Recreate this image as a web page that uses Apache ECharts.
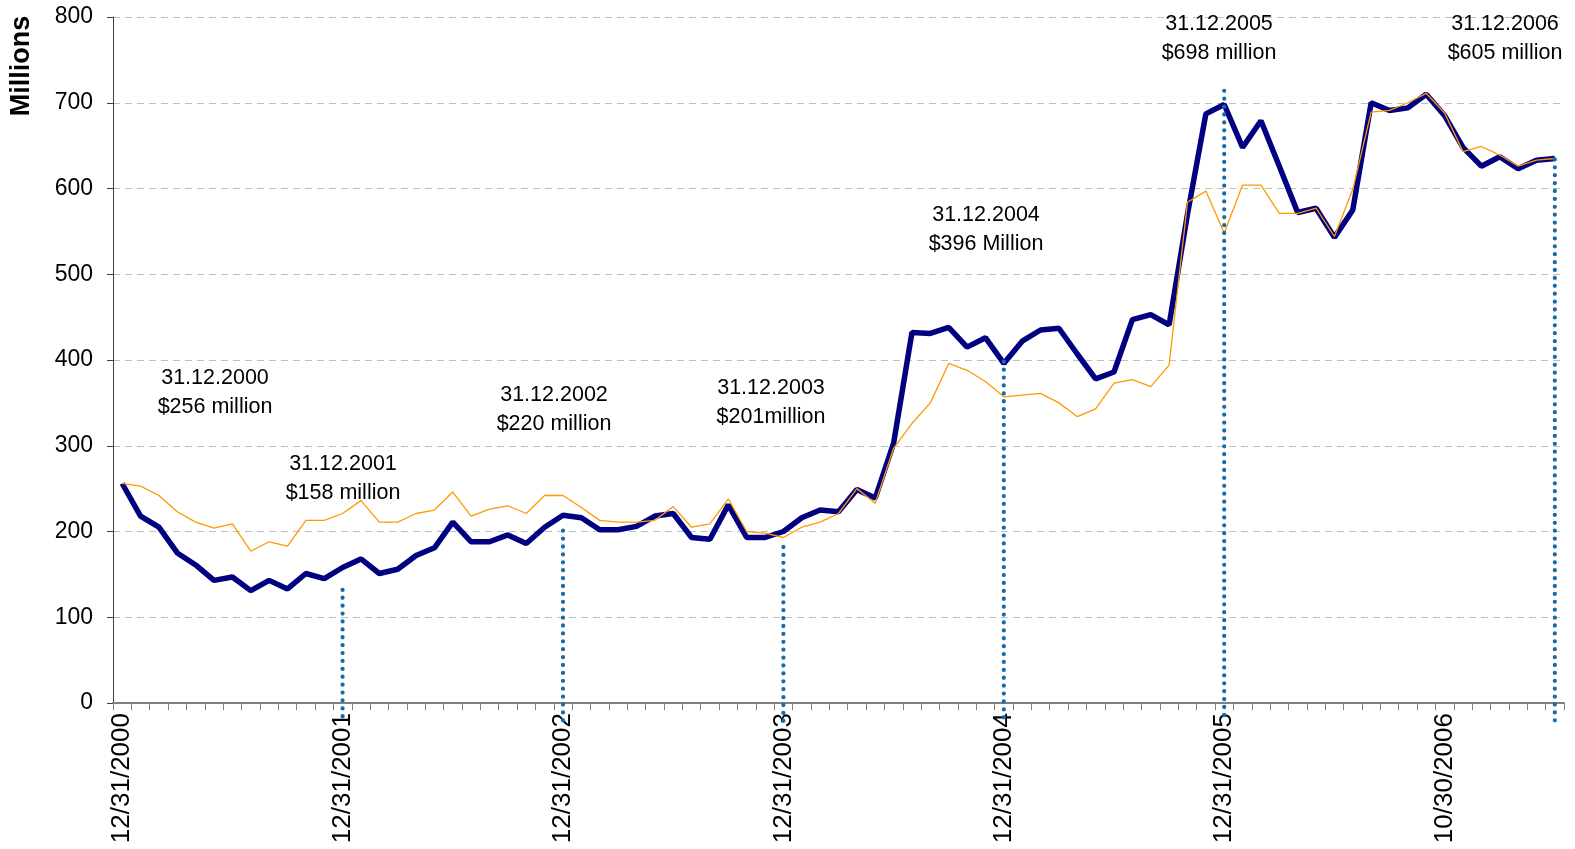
<!DOCTYPE html>
<html>
<head>
<meta charset="utf-8">
<script src="https://cdn.jsdelivr.net/npm/echarts@6/dist/echarts.min.js"></script>
<style>
  html, body { margin: 0; padding: 0; background: #fff; }
  #chart { width: 1575px; height: 849px; }
</style>
</head>
<body>
<div id="chart"></div>
<script>
// category dates (only every 12th is shown as a label)
var dates = [
  '12/31/2000',
  '1/31/2001', '2/28/2001', '3/30/2001', '4/30/2001', '5/31/2001', '6/29/2001',
  '7/31/2001', '8/31/2001', '9/28/2001', '10/31/2001', '11/30/2001', '12/31/2001',
  '1/31/2002', '2/28/2002', '3/29/2002', '4/30/2002', '5/31/2002', '6/28/2002',
  '7/31/2002', '8/30/2002', '9/30/2002', '10/31/2002', '11/29/2002', '12/31/2002',
  '1/31/2003', '2/28/2003', '3/31/2003', '4/30/2003', '5/30/2003', '6/30/2003',
  '7/31/2003', '8/29/2003', '9/30/2003', '10/31/2003', '11/28/2003', '12/31/2003',
  '1/30/2004', '2/27/2004', '3/31/2004', '4/30/2004', '5/31/2004', '6/30/2004',
  '7/30/2004', '8/31/2004', '9/30/2004', '10/29/2004', '11/30/2004', '12/31/2004',
  '1/31/2005', '2/28/2005', '3/31/2005', '4/29/2005', '5/31/2005', '6/30/2005',
  '7/29/2005', '8/31/2005', '9/30/2005', '10/31/2005', '11/30/2005', '12/31/2005',
  '1/31/2006', '2/28/2006', '3/31/2006', '4/28/2006', '5/31/2006', '6/30/2006',
  '7/14/2006', '7/31/2006', '8/15/2006', '8/31/2006', '9/29/2006', '10/30/2006',
  '11/15/2006', '11/30/2006', '12/8/2006', '12/15/2006', '12/22/2006', '12/31/2006'
];

// thick navy line (millions)
var navyValues = [
  256, 218, 205, 175, 161, 143, 147, 131, 143, 133, 151, 145, 158,
  168, 151, 156, 172, 181, 211, 188, 188, 196, 186, 205, 219,
  216, 202, 202, 206, 218, 221, 193, 191, 231, 193, 193, 200,
  216, 225, 223, 249, 239, 303, 432, 431, 438, 415, 426, 396,
  422, 435, 437, 407, 378, 386, 447, 453, 441, 570, 687, 698,
  648, 679, 626, 572, 577, 543, 575, 700, 691, 694, 710, 685,
  648, 626, 637, 623, 633, 635
];

// thin orange line (millions)
var orangeValues = [
  256, 253, 242, 223, 211, 204, 209, 177, 188, 183, 213, 213, 221,
  236, 211, 211, 221, 225, 246, 218, 226, 230, 221, 242, 242,
  228, 213, 211, 211, 213, 229, 205, 209, 238, 200, 198, 193,
  205, 211, 221, 250, 233, 297, 326, 350, 396, 388, 375, 357,
  359, 361, 350, 334, 343, 373, 377, 369, 394, 584, 597, 548,
  604, 604, 571, 571, 577, 544, 599, 689, 691, 700, 711, 688,
  643, 649, 639, 626, 633, 635
];

// dotted year-end markers: category index, top value
var markerIndex = [12, 24, 36, 48, 60, 78];
var markerTop = [132, 201, 182, 398, 714, 634];

// annotation texts
var noteDates = ['31.12.2000', '31.12.2001', '31.12.2002', '31.12.2003', '31.12.2004', '31.12.2005', '31.12.2006'];
var noteAmounts = ['$256 million', '$158 million', '$220 million', '$201million', '$396 Million', '$698 million', '$605 million'];
var notePos = [[215, 378], [343, 464], [554, 395], [771, 388], [986, 215], [1219, 24], [1505, 24]];

var font = 'Liberation Sans, Arial, sans-serif';

var option = {
  animation: false,
  backgroundColor: '#fff',
  grid: { left: 113, right: 11, top: 17, bottom: 146, containLabel: false },
  xAxis: {
    type: 'category',
    data: dates,
    boundaryGap: true,
    axisLine: { lineStyle: { color: '#808080', width: 2 } },
    axisTick: { show: true, interval: 0, length: 7, lineStyle: { color: '#808080' } },
    axisLabel: {
      interval: 11,
      rotate: 90,
      margin: 10,
      fontSize: 26,
      fontFamily: font,
      color: '#000'
    },
    splitLine: { show: false }
  },
  yAxis: {
    type: 'value',
    min: 0, max: 800, interval: 100,
    axisLine: { show: true, lineStyle: { color: '#404040', width: 1 } },
    axisTick: { show: true, length: 6, lineStyle: { color: '#404040' } },
    axisLabel: { fontSize: 23, fontFamily: font, color: '#000', margin: 20 },
    splitLine: { lineStyle: { color: '#c0c0c0', type: [7, 5], width: 1 } }
  },
  series: [
    {
      name: 'navy',
      type: 'line',
      data: navyValues,
      symbol: 'none',
      lineStyle: { color: '#000080', width: 5.5 },
      z: 2
    },
    {
      name: 'orange',
      type: 'line',
      data: orangeValues,
      symbol: 'none',
      lineStyle: { color: '#FF9900', width: 1.3 },
      z: 3
    }
  ]
};

var chart = echarts.init(document.getElementById('chart'));
chart.setOption(option);

// texts + dotted lines placed through the chart's own scales
var graphics = [{
  type: 'text',
  x: 22, y: 66,
  rotation: Math.PI / 2,
  style: { text: 'Millions', font: 'bold 27px ' + font, fill: '#000', align: 'center', verticalAlign: 'middle' }
}];
noteDates.forEach(function (d, i) {
  graphics.push({
    type: 'text', x: notePos[i][0], y: notePos[i][1],
    style: { text: d, font: '21.5px ' + font, fill: '#000', align: 'center', verticalAlign: 'middle' }
  });
  graphics.push({
    type: 'text', x: notePos[i][0], y: notePos[i][1] + 29,
    style: { text: noteAmounts[i], font: '21.5px ' + font, fill: '#000', align: 'center', verticalAlign: 'middle' }
  });
});
markerIndex.forEach(function (idx, i) {
  var top = chart.convertToPixel({ gridIndex: 0 }, [idx, markerTop[i]]);
  var base = chart.convertToPixel({ gridIndex: 0 }, [idx, 0]);
  graphics.push({
    type: 'line',
    z: 10,
    silent: true,
    shape: { x1: top[0], y1: top[1], x2: base[0], y2: base[1] + 19 },
    style: { stroke: '#176aa8', lineWidth: 4.2, lineDash: [0.1, 7.8], lineCap: 'round' }
  });
});
chart.setOption({ graphic: graphics });
</script>
</body>
</html>
